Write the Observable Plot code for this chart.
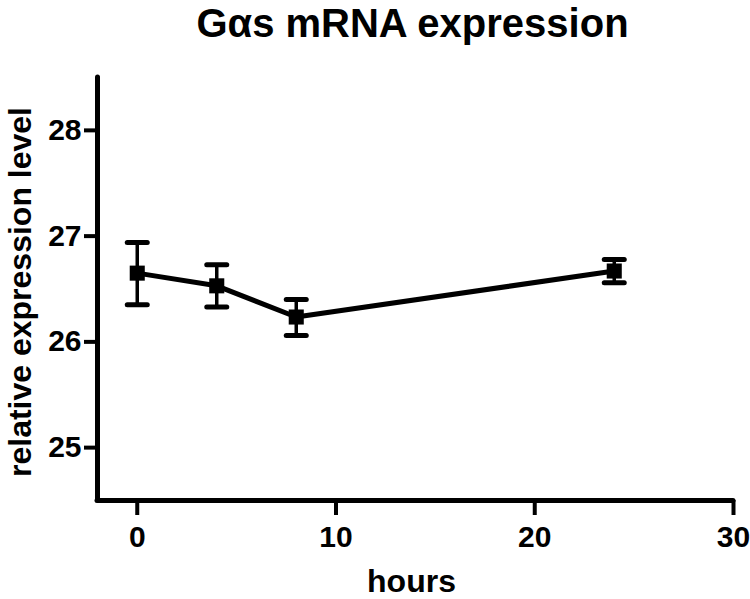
<!DOCTYPE html>
<html>
<head>
<meta charset="utf-8">
<script src="https://cdn.jsdelivr.net/npm/d3@7"></script>
<script src="https://cdn.jsdelivr.net/npm/@observablehq/plot@0.6"></script>
<style>
  html, body { margin: 0; padding: 0; background: #fff; }
</style>
</head>
<body>
<div id="chart"></div>
<script>
const hours = [0, 4, 8, 24];
const mean  = [26.65, 26.53, 26.235, 26.67];
const lower = [26.35, 26.33, 26.06, 26.56];
const upper = [26.94, 26.73, 26.40, 26.78];
const xTicks = [0, 10, 20, 30];
const yTicks = [25, 26, 27, 28];
const xDomain = [-2, 30];
const yDomain = [24.5, 28.5];
const titleText = "Gαs mRNA expression";
const xLabel = "hours";
const yLabel = "relative expression level";

const data = hours.map((h, i) => ({hours: h, mean: mean[i], lo: lower[i], hi: upper[i]}));

const font = "'Liberation Sans', Arial, Helvetica, sans-serif";
const capSymbol = {
  draw(context, size) {
    context.moveTo(-10, 0);
    context.lineTo(10, 0);
  }
};

const plot = Plot.plot({
  width: 750,
  height: 599,
  marginLeft: 97,
  marginRight: 17,
  marginTop: 77,
  marginBottom: 99,
  style: {fontFamily: font, fontWeight: "bold", fontSize: "30px", color: "#000", background: "#fff", overflow: "visible"},
  x: {domain: xDomain, label: null},
  y: {domain: yDomain, label: null},
  marks: [
    // axis lines
    Plot.ruleX([xDomain[0]], {y1: yDomain[0], y2: yDomain[1], stroke: "#000", strokeWidth: 5, strokeLinecap: "round"}),
    Plot.ruleY([yDomain[0]], {x1: xDomain[0], x2: xDomain[1], stroke: "#000", strokeWidth: 5, strokeLinecap: "round"}),
    Plot.axisY({ticks: yTicks, tickSize: 13, tickPadding: 3, strokeWidth: 4, tickFormat: d => String(d), fontSize: 30, fontWeight: "bold", label: null}),
    Plot.axisX({ticks: xTicks, tickSize: 15, tickPadding: 10, strokeWidth: 4, tickFormat: d => String(d), fontSize: 30, fontWeight: "bold", label: null}),
    // error bars
    Plot.ruleX(data, {x: "hours", y1: "lo", y2: "hi", stroke: "#000", strokeWidth: 3.5}),
    Plot.dot(data, {x: "hours", y: "lo", symbol: capSymbol, stroke: "#000", strokeWidth: 5, strokeLinecap: "round", r: 1}),
    Plot.dot(data, {x: "hours", y: "hi", symbol: capSymbol, stroke: "#000", strokeWidth: 5, strokeLinecap: "round", r: 1}),
    // line and markers
    Plot.line(data, {x: "hours", y: "mean", stroke: "#000", strokeWidth: 5}),
    Plot.dot(data, {x: "hours", y: "mean", symbol: "square", r: 8.5, fill: "#000", stroke: "none"}),
    // titles
    Plot.text([titleText], {frameAnchor: "top", dy: -41, dx: -3, lineAnchor: "bottom", fontSize: 40, fontWeight: "bold", fill: "#000"}),
    Plot.text([xLabel], {frameAnchor: "bottom", dy: 91, dx: -4, lineAnchor: "bottom", fontSize: 32, fontWeight: "bold", fill: "#000"}),
    Plot.text([yLabel], {frameAnchor: "left", dx: -77, dy: 3, rotate: -90, lineAnchor: "middle", textAnchor: "middle", fontSize: 32, fontWeight: "bold", fill: "#000"})
  ]
});
document.getElementById("chart").appendChild(plot);
</script>
</body>
</html>
